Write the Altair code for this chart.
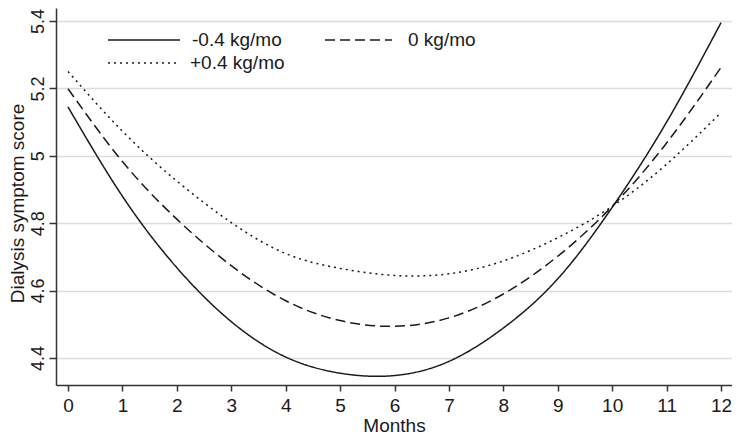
import altair as alt
import pandas as pd

# ---- data ----
months = [0, 1, 2, 3, 4, 5, 6, 7, 8, 9, 10, 11, 12]
score_minus = [5.145, 4.880, 4.668, 4.508, 4.403, 4.355, 4.348, 4.390, 4.489, 4.635, 4.847, 5.100, 5.395]
score_zero = [5.199, 4.983, 4.812, 4.674, 4.570, 4.511, 4.494, 4.519, 4.590, 4.702, 4.850, 5.038, 5.262]
score_plus = [5.250, 5.073, 4.925, 4.802, 4.710, 4.666, 4.645, 4.650, 4.688, 4.757, 4.850, 4.975, 5.128]
series_labels = ["-0.4 kg/mo", "0 kg/mo", "+0.4 kg/mo"]
y_ticks = [4.4, 4.6, 4.8, 5.0, 5.2, 5.4]

rows = []
for lab, vals in zip(series_labels, [score_minus, score_zero, score_plus]):
    for m, v in zip(months, vals):
        rows.append({"month": m, "score": v, "series": lab})
df = pd.DataFrame(rows)

dash_styles = [[1, 0], [10, 5], [2, 4]]
FONT = "Liberation Sans"
INK = "#1a1a1a"

x_enc = alt.X(
    "month:Q",
    scale=alt.Scale(domain=[-0.2205, 12.202], nice=False, zero=False),
    axis=alt.Axis(
        values=months, title="Months", grid=False,
        tickSize=6, labelPadding=20, labelBaseline="alphabetic",
        labelFontSize=19, titleFontSize=19,
        titleBaseline="alphabetic", titleY=46, titleFontWeight="normal",
    ),
)
y_enc = alt.Y(
    "score:Q",
    scale=alt.Scale(domain=[4.3199, 5.4386], nice=False, zero=False),
    axis=alt.Axis(
        values=y_ticks, format="~g", title="Dialysis symptom score",
        grid=True, gridColor="#dcdcdc", gridWidth=1.5,
        tickSize=7, labelPadding=6, labelAngle=270, labelAlign="center",
        labelBaseline="alphabetic", labelFontSize=18,
        titleFontSize=19, titleAngle=270, titleAlign="center",
        titleBaseline="alphabetic", titleX=-33, titleY=195,
        titleFontWeight="normal",
    ),
)

lines = alt.Chart(df).mark_line(interpolate="natural", color=INK, strokeWidth=1.5).encode(
    x=x_enc,
    y=y_enc,
    strokeDash=alt.StrokeDash(
        "series:N",
        scale=alt.Scale(domain=series_labels, range=dash_styles),
        legend=None,
    ),
)

# manual in-plot legend (layout positions in pixels)
legend_layout = [
    (series_labels[0], dash_styles[0], 52, 124, 32, 136),
    (series_labels[1], dash_styles[1], 269, 336, 32, 352),
    (series_labels[2], dash_styles[2], 52, 124, 55, 134),
]
legend_layers = []
for lab, dash, x0, x1, yy, tx in legend_layout:
    ldf = pd.DataFrame({"label": [lab]})
    legend_layers.append(
        alt.Chart(ldf).mark_rule(color=INK, strokeWidth=1.5, strokeDash=dash).encode(
            x=alt.value(x0), x2=alt.value(x1), y=alt.value(yy)
        )
    )
    legend_layers.append(
        alt.Chart(ldf).mark_text(
            align="left", baseline="middle", fontSize=19, font=FONT, color=INK
        ).encode(x=alt.value(tx), y=alt.value(yy), text="label:N")
    )

chart = alt.layer(lines, *legend_layers).properties(
    width=676,
    height=377,
    autosize="none",
    padding={"left": 48, "top": 0, "right": 0, "bottom": 50},
).configure_view(stroke=None).configure_axis(
    labelFont=FONT, titleFont=FONT, labelColor=INK, titleColor=INK,
    domainColor="#333333", domainWidth=1.5, tickColor="#333333", tickWidth=1.5,
)

chart.save("out.html", embed_options={"renderer": "svg", "actions": False})
